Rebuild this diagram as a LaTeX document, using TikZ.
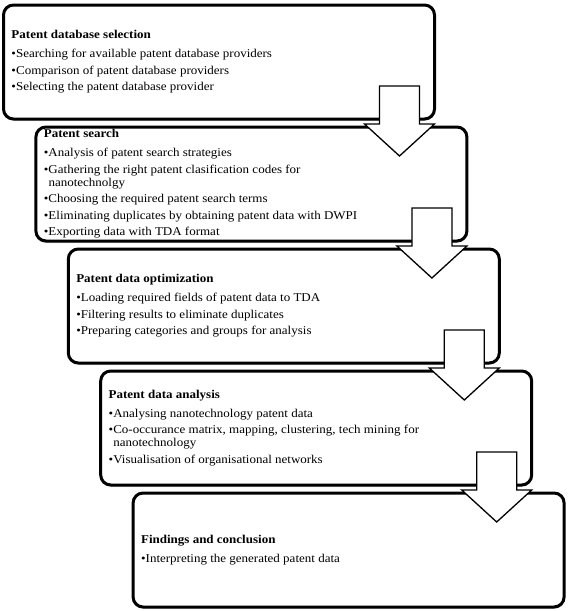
\documentclass[tikz,border=0pt]{standalone}
\usepackage{fontspec}
\setmainfont{Liberation Serif}
\usetikzlibrary{shadows}

\newcommand{\stageitem}[1]{\par\hangindent=4.6pt\hangafter=1\noindent\makebox[4.6pt][l]{\textbullet}#1}
\newcommand{\stagebody}[2]{\scalebox{1}[0.92]{\parbox{415pt}{\fontsize{13}{14}\selectfont\setlength{\parskip}{4pt}\textbf{#1}\par\vspace{2.6pt}#2}}}

\begin{document}
\begin{tikzpicture}[x=1pt,y=-1pt,
  stage/.style={draw, line width=3pt, rounded corners=10pt, fill=white,
    minimum width=431pt, minimum height=114pt, anchor=north west,
    inner xsep=8pt, inner ysep=0pt, outer sep=0pt,
    drop shadow={shadow xshift=0pt, shadow yshift=-2pt, opacity=0.25}},
  blockarrow/.style={draw, line width=1.3pt, fill=white, line join=miter}]
\useasboundingbox (0,0) rectangle (568,611);
% stages
\node[stage] (b1) at (3.5,5) {\stagebody{Patent database selection}{%
  \stageitem{Searching for available patent database providers}
  \stageitem{Comparison of patent database providers}
  \stageitem{Selecting the patent database provider}}};
\node[stage] (b2) at (35.9,127) {\stagebody{Patent search}{%
  \stageitem{Analysis of patent search strategies}
  \stageitem{Gathering the right patent clasification codes for\newline nanotechnolgy}
  \stageitem{Choosing the required patent search terms}
  \stageitem{Eliminating duplicates by obtaining patent data with DWPI}
  \stageitem{Exporting data with TDA format}}};
\node[stage] (b3) at (68.3,249) {\stagebody{Patent data optimization}{%
  \stageitem{Loading required fields of patent data to TDA}
  \stageitem{Filtering results to eliminate duplicates}
  \stageitem{Preparing categories and groups for analysis}}};
\node[stage] (b4) at (100.7,371) {\stagebody{Patent data analysis}{%
  \stageitem{Analysing nanotechnology patent data}
  \stageitem{Co-occurance matrix, mapping, clustering, tech mining for\newline nanotechnology}
  \stageitem{Visualisation of organisational networks}}};
\node[stage] (b5) at (133.1,493) {\stagebody{Findings and conclusion}{%
  \stageitem{Interpreting the generated patent data}}};
% arrows between stages
\foreach \i/\j in {1/2,2/3,3/4,4/5}
  \draw[blockarrow, shift={(b\i.south east)}] (-55,-33) -- (-15,-33) -- (-15,5) -- (0,5)
    -- (-35,37) -- (-70,5) -- (-55,5) -- cycle;
\end{tikzpicture}
\end{document}
